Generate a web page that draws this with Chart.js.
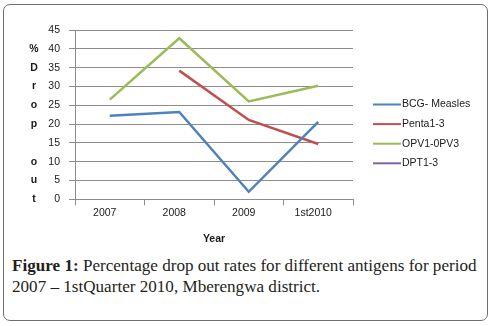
<!DOCTYPE html>
<html>
<head>
<meta charset="utf-8">
<script src="https://cdn.jsdelivr.net/npm/chart.js@4.4.1/dist/chart.umd.min.js"></script>
<style>
  html, body { margin: 0; padding: 0; background: #fff; }
  #wrap { position: relative; width: 493px; height: 326px; overflow: hidden; }
  #frame { position: absolute; left: 3px; top: 4px; width: 485px; height: 317px;
           border: 1.5px solid #6f6f6f; border-radius: 7px; box-sizing: border-box; }
  #cv { position: absolute; left: 0; top: 0; }
  #caption { position: absolute; left: 12px; top: 255px; width: 478px;
             font-family: "Liberation Serif", "DejaVu Serif", serif; font-size: 17.1px;
             line-height: 21px; color: #231f20; white-space: nowrap; }
  #caption b { font-weight: bold; }
</style>
</head>
<body>
<div id="wrap">
  <div id="frame"></div>
  <canvas id="cv" width="493" height="245"></canvas>
  <div id="caption"><b>Figure 1:</b> Percentage drop out rates for different antigens for period<br>2007 – 1stQuarter 2010, Mberengwa district.</div>
</div>
<script>
// Years on the horizontal axis
const years = ['2007', '2008', '2009', '1st2010'];

// Drop out rates (%) per antigen
const bcgMeasles = [22.2, 23.2, 2.0, 20.6];
const penta13 = [null, 34.2, 21.1, 14.7];
const opv13 = [26.5, 42.8, 26.0, 30.2];
const dpt13 = [null, null, null, null];

const seriesNames = ['BCG- Measles', 'Penta1-3', 'OPV1-0PV3', 'DPT1-3'];
const seriesColors = ['#4F81BD', '#C0504D', '#9BBB59', '#8064A2'];

// Vertical axis caption, one character per major tick
const yTitleChars = ['%', 'D', 'r', 'o', 'p', '', 'o', 'u', 't'];
const yTitleAt = [40, 35, 30, 25, 20, 15, 10, 5, 0];

const tickFont = { family: '"Liberation Sans", Arial, sans-serif', size: 10.5 };

// Stacked letters beside the value axis
const yTitlePlugin = {
  id: 'yTitle',
  afterDraw(chart) {
    const ctx = chart.ctx, y = chart.scales.y;
    ctx.save();
    ctx.font = 'bold 10.5px "Liberation Sans", Arial, sans-serif';
    ctx.fillStyle = '#1a1a1a';
    ctx.textAlign = 'center';
    ctx.textBaseline = 'middle';
    yTitleChars.forEach((c, i) => {
      if (c) ctx.fillText(c, 34, y.getPixelForValue(yTitleAt[i]));
    });
    ctx.restore();
  }
};

// Legend on the right side
const sideLegend = {
  id: 'sideLegend',
  afterDraw(chart) {
    const ctx = chart.ctx;
    ctx.save();
    ctx.font = '10.5px "Liberation Sans", Arial, sans-serif';
    ctx.textBaseline = 'middle';
    chart.data.datasets.forEach((ds, i) => {
      const yy = 104.5 + i * 19.6;
      ctx.strokeStyle = ds.borderColor;
      ctx.lineWidth = 2;
      ctx.beginPath();
      ctx.moveTo(373, yy);
      ctx.lineTo(401, yy);
      ctx.stroke();
      ctx.fillStyle = '#1a1a1a';
      ctx.fillText(ds.label, 402, yy);
    });
    ctx.restore();
  }
};

const datasets = [bcgMeasles, penta13, opv13, dpt13].map((d, i) => ({
  label: seriesNames[i],
  data: d,
  borderColor: seriesColors[i],
  backgroundColor: seriesColors[i],
  borderWidth: 2.5,
  pointRadius: 0,
  tension: 0,
  spanGaps: false
}));

new Chart(document.getElementById('cv'), {
  type: 'line',
  data: { labels: years, datasets },
  options: {
    responsive: false,
    animation: false,
    layout: { padding: { left: 20, top: 30, right: 140, bottom: 0 } },
    plugins: { legend: { display: false }, tooltip: { enabled: false } },
    scales: {
      x: {
        offset: true,
        grid: { offset: true, drawOnChartArea: false, drawTicks: true, tickLength: 6, color: '#8c8c8c' },
        border: { color: '#8c8c8c', width: 1 },
        ticks: { font: tickFont, color: '#1a1a1a', padding: 2, labelOffset: -5, maxRotation: 0 },
        title: { display: true, text: 'Year', color: '#1a1a1a',
                 font: { family: '"Liberation Sans", Arial, sans-serif', size: 10.5, weight: 'bold' },
                 padding: { top: 2, bottom: 0 } },
        afterFit: s => { s.height = 45.7; }
      },
      y: {
        min: 0, max: 45,
        ticks: { stepSize: 5, font: tickFont, color: '#1a1a1a', padding: 9 },
        grid: { color: '#8c8c8c', tickLength: 6 },
        border: { color: '#8c8c8c', width: 1 },
        afterFit: s => { s.width = 55; }
      }
    }
  },
  plugins: [yTitlePlugin, sideLegend]
});
</script>
</body>
</html>
